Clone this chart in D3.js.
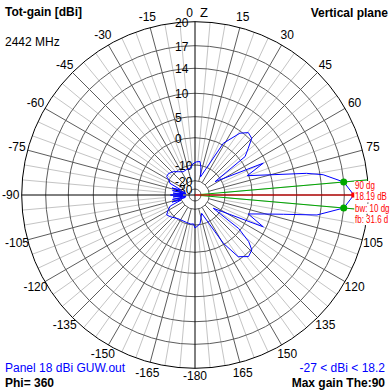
<!DOCTYPE html>
<html><head><meta charset="utf-8">
<script src="https://cdn.jsdelivr.net/npm/d3@7"></script>
<style>
body{margin:0;background:#fff}
svg{display:block}
text{font-family:"Liberation Sans",Arial,sans-serif}
</style>
</head><body>
<svg id="chart" width="390" height="390"></svg>
<script>
// ---- data ----
const ringValues = [20, 17, 14, 10, 5, 0, -10, -20, -30];
const ringLabels = ["20", "17", "14", "10", "5", "0", "-10", "-20", "-30"];
const angleTicks = [15, 30, 45, 60, 75, 105, 120, 135, 150, 165, 180, -165, -150, -135, -120, -105, -90, -75, -60, -45, -30, -15];
const angleTickLabels = ["15", "30", "45", "60", "75", "105", "120", "135", "150", "165", "-180", "-165", "-150", "-135", "-120", "-105", "-90", "-75", "-60", "-45", "-30", "-15"];
const patternAngles = [-180, -177, -172, -163, -144, -131, -125, -119, -114, -110, -107, -104, -101, -98, -95, -92, -90, -88, -85, -82, -79, -76, -73, -70, -65, -60, -57, -51, -43, -35, -27, -18, -11, -4, 0, 3, 8.5, 12, 17, 28.7, 36, 40.5, 45, 48.8, 52.5, 56.4, 65, 69.7, 75.7, 79, 81, 85, 90, 95, 99.3, 102.3, 105.2, 109.6, 115, 126, 127.5, 131, 134, 139, 145, 149.6, 160, 170, 176];
const patternGains  = [-8.9, -10.7, -10.4, -10.8, -10.5, -8.9, -8.3, -9.8, -11.9, -19.6, -13.8, -25.2, -14.5, -26.4, -15.1, -22.8, -13.41, -22.8, -15.1, -26.4, -14.5, -25.2, -13.8, -19.6, -11.5, -10.0, -8.6, -8.5, -9.3, -11.0, -12.5, -12.0, -11.8, -9.6, -9.1, -8.8, -8.6, -11.0, -17.0, 0.4, 4.55, 5.8, 5.4, 3.2, 1.4, -13.8, 4.3, -0.6, 5.9, 11.9, 14.4, 17.0, 18.19, 17.0, 13.5, 7.6, 3.6, -0.3, 4.3, -14.7, -0.8, 3.3, 5.15, 5.7, 4.3, -0.5, -16.7, -10.5, -9.5];
const peakAngle = 90, peakGain = 18.19;
const bwAngles = [85, 95], bwGains = [17.0, 17.0];
const infoLines = ["90 dg", "18.19 dB", "bw: 10 dg", "fb: 31.6 d"];

// ---- layout ----
const cx = 195, cy = 195;
const svg = d3.select("#chart");
svg.append("rect").attr("width", 390).attr("height", 390).attr("fill", "#fff");
const g = svg.append("g").attr("transform", `translate(${cx},${cy})`);

const rScale = d3.scaleLinear()
  .domain([-30, -20, -10, 0, 5, 10, 14, 17, 20])
  .range([6, 14.3, 30, 57.3, 78.3, 101.7, 126.7, 149.3, 173.3])
  .clamp(true);
const R = rScale(20);
const rad = d => d * Math.PI / 180;
const px = (a, r) => r * Math.sin(rad(a));
const py = (a, r) => -r * Math.cos(rad(a));

// light spokes (every 5 deg)
const spokes = d3.range(0, 360, 5);
g.selectAll("line.light").data(spokes.filter(a => a % 15 !== 0)).join("line")
  .attr("x1", a => px(a, rScale(-10))).attr("y1", a => py(a, rScale(-10)))
  .attr("x2", a => px(a, R)).attr("y2", a => py(a, R))
  .attr("stroke", "#c4c4c4").attr("stroke-width", 1);
// dark spokes (every 15 deg)
g.selectAll("line.dark").data(spokes.filter(a => a % 15 === 0 && a % 90 !== 0)).join("line")
  .attr("x1", a => px(a, rScale(-20))).attr("y1", a => py(a, rScale(-20)))
  .attr("x2", a => px(a, R)).attr("y2", a => py(a, R))
  .attr("stroke", "#5c5c5c").attr("stroke-width", 1);
// rings
g.selectAll("circle.ring").data(ringValues.slice(1)).join("circle")
  .attr("r", d => rScale(d)).attr("fill", "none")
  .attr("stroke", "#5c5c5c").attr("stroke-width", 1);
g.append("circle").attr("r", R).attr("fill", "none").attr("stroke", "#000").attr("stroke-width", 1);
// axes
g.append("line").attr("x1", -R).attr("x2", R).attr("y1", 0).attr("y2", 0).attr("stroke", "#000");
g.append("line").attr("y1", -R).attr("y2", R).attr("x1", 0).attr("x2", 0).attr("stroke", "#000");

// ring labels
g.selectAll("text.rl").data(ringValues).join("text")
  .attr("x", -20).attr("y", d => -rScale(d) + 5)
  .attr("font-size", 12).attr("fill", "#000")
  .text((d, i) => ringLabels[i]);

// angle labels
const labR = R + 11;
g.selectAll("text.al").data(angleTicks).join("text")
  .attr("x", a => px(a, labR)).attr("y", a => py(a, labR) + (Math.abs(a) === 180 ? -3 : 0) + (Math.abs(a) === 150 ? -1 : 0))
  .attr("text-anchor", "middle").attr("dominant-baseline", "central")
  .attr("font-size", 12).attr("fill", "#000")
  .text((a, i) => angleTickLabels[i]);
g.append("text").attr("x", -2).attr("y", -R - 5).attr("text-anchor", "end")
  .attr("font-size", 12).text("0");
g.append("text").attr("x", 5).attr("y", -R - 5).attr("text-anchor", "start")
  .attr("font-size", 13).text("Z");

// beamwidth lines and peak line
g.selectAll("line.bw").data(bwAngles).join("line")
  .attr("x1", a => px(a, rScale(-30))).attr("y1", a => py(a, rScale(-30)))
  .attr("x2", a => px(a, R)).attr("y2", a => py(a, R))
  .attr("stroke", "#00a800").attr("stroke-width", 1);
g.append("line").attr("x1", 0).attr("y1", 0)
  .attr("x2", px(peakAngle, rScale(peakGain))).attr("y2", py(peakAngle, rScale(peakGain)))
  .attr("stroke", "#ff0000").attr("stroke-width", 1);

// pattern
const pts = patternAngles.map((a, i) => [a, patternGains[i]]);
const radial = d3.lineRadial()
  .angle(d => rad(d[0])).radius(d => rScale(d[1]))
  .curve(d3.curveLinearClosed);
g.append("path").attr("d", radial(pts)).attr("fill", "none")
  .attr("stroke", "#0000ff").attr("stroke-width", 1);

// markers
g.selectAll("circle.bwdot").data(bwAngles).join("circle")
  .attr("cx", (a, i) => px(a, rScale(bwGains[i]))).attr("cy", (a, i) => py(a, rScale(bwGains[i])))
  .attr("r", 3.5).attr("fill", "#00a800");
g.append("rect")
  .attr("x", px(peakAngle, rScale(peakGain)) - 2.5).attr("y", py(peakAngle, rScale(peakGain)) - 2.5)
  .attr("width", 5).attr("height", 5).attr("fill", "#ff0000");

// info text (red) with opaque background
const info = svg.append("g").attr("transform", "translate(355,0) scale(0.76,1)");
const infoG = info.selectAll("g.line").data(infoLines).join("g");
const infoT = infoG.append("text")
  .attr("x", 0).attr("y", (d, i) => 189 + i * 11.3)
  .attr("font-size", 10.5).attr("fill", "#ff0000").text(d => d);
infoT.each(function () {
  const b = this.getBBox();
  d3.select(this.parentNode).insert("rect", "text")
    .attr("x", b.x - 1).attr("y", b.y + 1).attr("width", b.width + 2).attr("height", b.height - 1)
    .attr("fill", "#fff");
});

// header / footer texts
svg.append("text").attr("x", 5).attr("y", 16).attr("font-size", 12).attr("font-weight", "bold").text("Tot-gain [dBi]");
svg.append("text").attr("x", 5).attr("y", 46).attr("font-size", 12).text("2442 MHz");
svg.append("text").attr("x", 388).attr("y", 17).attr("text-anchor", "end").attr("font-size", 12).attr("font-weight", "bold").text("Vertical plane");
svg.append("text").attr("x", 5).attr("y", 372).attr("font-size", 12).attr("fill", "#0000ff").text("Panel 18 dBi GUW.out");
svg.append("text").attr("x", 5).attr("y", 387).attr("font-size", 12).attr("font-weight", "bold").text("Phi= 360");
svg.append("text").attr("x", 385).attr("y", 372).attr("text-anchor", "end").attr("font-size", 12).attr("fill", "#0000ff").text("-27 < dBi < 18.2");
svg.append("text").attr("x", 385).attr("y", 387).attr("text-anchor", "end").attr("font-size", 12).attr("font-weight", "bold").text("Max gain The:90");
</script>
</body></html>
